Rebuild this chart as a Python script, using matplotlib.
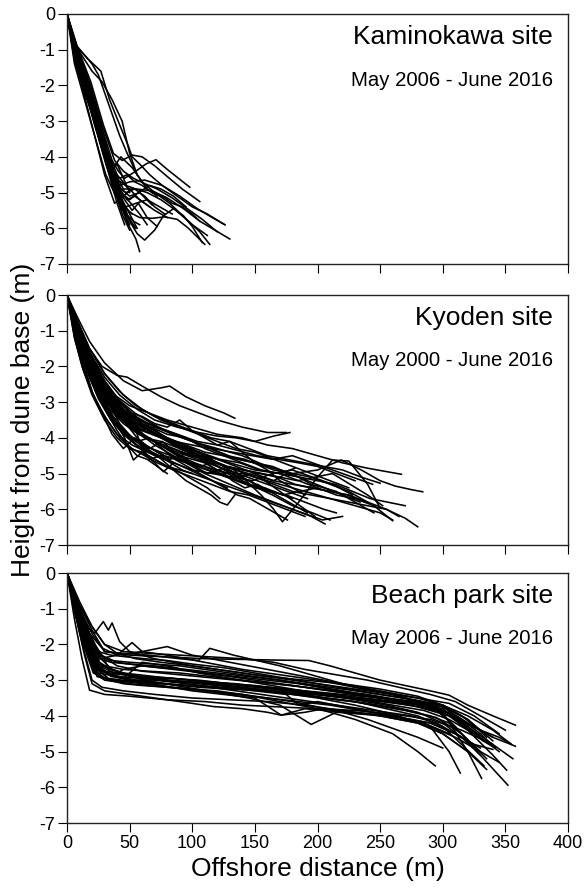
import matplotlib
matplotlib.use("Agg")
import matplotlib.pyplot as plt

plt.rcParams['font.family'] = ['Liberation Sans', 'DejaVu Sans']
plt.rcParams['axes.unicode_minus'] = False

# ---------------- data ----------------
sites = ["Kaminokawa site", "Kyoden site", "Beach park site"]
periods = ["May 2006 - June 2016", "May 2000 - June 2016", "May 2006 - June 2016"]
x_ticks = [0, 50, 100, 150, 200, 250, 300, 350, 400]
y_ticks = [0, -1, -2, -3, -4, -5, -6, -7]

kaminokawa_x = [
    [0, 7, 14, 21, 28, 35, 42, 49, 55, 58],
    [0, 7, 15, 22, 30, 37, 44, 50],
    [0, 8, 16, 24, 32, 40, 46],
    [0, 7, 15, 23, 31, 39, 46, 52],
    [0, 8, 17, 26, 35, 43, 50, 58, 68],
    [0, 7, 16, 25, 34, 43, 51, 58, 64],
    [0, 7, 17, 26, 35, 43, 50, 56, 62, 70, 77, 85, 93, 100, 108],
    [0, 7, 16, 25, 34, 42, 50, 58, 68, 78, 88, 97, 110],
    [0, 7, 18, 27, 34, 42, 49, 52, 58, 66, 76, 88, 100, 112, 126],
    [0, 8, 18, 28, 36, 41, 46, 55, 63, 71, 80, 89, 98],
    [0, 8, 19, 29, 37, 44, 52, 60, 70, 80, 92, 106],
    [0, 7, 17, 27, 36, 45, 55, 68, 80, 93, 106, 118, 130],
    [0, 7, 16, 25, 34, 42, 50, 62, 76, 90, 104, 116, 126],
    [0, 8, 16, 24, 32, 40, 47, 54, 62, 70, 78],
    [0, 7, 14, 22, 30, 38, 45, 52],
    [0, 7, 16, 24, 31, 37, 43, 52, 60, 70, 82, 94, 106, 114],
    [0, 6, 14, 22, 31, 39, 47, 55, 64, 74, 84],
    [0, 7, 18, 28, 38, 45, 53, 62, 72, 84, 96, 108, 120],
    [0, 7, 15, 22, 30, 37, 43, 50, 58, 66],
    [0, 7, 17, 26, 35, 43, 49, 55],
    [0, 7, 15, 22, 29, 35, 40, 45, 50],
    [0, 7, 20, 28, 36, 44, 50, 56, 64, 72],
    [0, 7, 13, 20, 27, 33, 39, 45, 50],
    [0, 6, 12, 19, 26, 32, 38, 44, 49, 54],
    [0, 8, 15, 22, 29, 36, 42, 48, 54, 62, 70, 80],
    [0, 7, 14, 21, 28, 36, 43, 50, 57, 66, 75, 85, 95],
    [0, 6, 13, 21, 28, 35, 41, 47, 53, 58],
    [0, 7, 15, 23, 31, 38, 44],
    [0, 7, 16, 25, 33, 40, 47, 55, 64, 75, 87, 100, 112],
    [0, 6, 14, 22, 30, 37, 42, 48, 54, 60, 68, 76, 84, 92, 100, 106],
    [0, 7, 14, 21, 28, 34, 40, 46, 52, 57, 64, 72],
    [0, 8, 20, 25, 30, 36, 42, 48, 52, 56],
    [0, 8, 16, 23, 30, 37, 44, 50, 56],
]
kaminokawa_y = [
    [0, -0.9, -1.8, -2.7, -3.6, -4.5, -5.3, -5.9, -6.3, -6.65],
    [0, -1.0, -2.0, -2.9, -3.9, -4.8, -5.6, -6.05],
    [0, -1.1, -2.2, -3.2, -4.3, -5.3, -5.9],
    [0, -1.2, -2.2, -3.2, -4.2, -5.0, -5.4, -5.6],
    [0, -1.0, -2.0, -3.1, -4.2, -4.9, -5.1, -5.0, -5.35],
    [0, -1.0, -2.1, -3.2, -4.3, -5.0, -5.3, -5.6, -5.9],
    [0, -1.0, -2.0, -3.2, -4.3, -5.1, -5.8, -6.15, -6.33, -6.05, -5.65, -5.45, -5.65, -5.95, -6.4],
    [0, -1.1, -2.2, -3.4, -4.5, -5.2, -5.55, -5.7, -5.72, -5.68, -5.75, -6.0, -6.45],
    [0, -0.9, -1.3, -1.6, -2.4, -3.1, -3.7, -4.0, -4.2, -4.5, -4.8, -5.1, -5.4, -5.6, -5.9],
    [0, -1.0, -2.0, -3.2, -4.1, -4.4, -4.6, -4.4, -4.2, -4.08, -4.35, -4.6, -4.85],
    [0, -0.9, -1.9, -3.1, -3.9, -4.1, -3.95, -4.0, -4.25, -4.55, -4.9, -5.25],
    [0, -1.0, -2.0, -3.2, -4.3, -4.9, -4.9, -4.95, -5.15, -5.45, -5.8, -6.05, -6.3],
    [0, -1.1, -2.2, -3.3, -4.3, -4.8, -4.7, -4.65, -4.8, -5.1, -5.45, -5.7, -5.9],
    [0, -1.0, -2.0, -3.1, -4.1, -4.8, -5.0, -4.9, -5.1, -5.4, -5.6],
    [0, -1.3, -2.3, -3.4, -4.5, -5.3, -5.1, -4.9],
    [0, -1.0, -2.0, -3.0, -3.8, -4.3, -4.0, -4.3, -4.7, -5.0, -5.3, -5.7, -6.1, -6.45],
    [0, -1.4, -2.4, -3.4, -4.5, -5.1, -5.4, -5.3, -5.2, -5.4, -5.6],
    [0, -0.9, -1.9, -3.1, -4.1, -4.4, -4.6, -4.75, -4.9, -5.15, -5.45, -5.75, -6.1],
    [0, -1.2, -2.2, -3.1, -4.0, -4.6, -4.7, -4.9, -5.2, -5.4],
    [0, -1.0, -2.2, -3.4, -4.5, -5.3, -5.7, -6.0],
    [0, -1.1, -2.1, -3.0, -3.9, -4.4, -4.2, -4.6, -5.0],
    [0, -0.9, -1.6, -1.9, -2.4, -3.0, -3.9, -4.5, -4.9, -5.1],
    [0, -1.0, -1.6, -2.5, -3.4, -4.2, -4.9, -5.5, -5.9],
    [0, -1.2, -1.8, -2.6, -3.4, -4.1, -4.7, -5.3, -5.7, -6.0],
    [0, -1.0, -1.8, -2.6, -3.5, -4.3, -4.9, -5.2, -5.1, -5.3, -5.5, -5.7],
    [0, -1.1, -1.9, -2.7, -3.6, -4.5, -5.0, -5.2, -5.0, -4.8, -4.9, -5.1, -5.4],
    [0, -1.3, -2.1, -2.9, -3.8, -4.6, -5.2, -5.6, -5.8, -5.9],
    [0, -1.0, -2.0, -3.0, -4.0, -4.9, -5.5],
    [0, -0.95, -1.9, -2.9, -3.9, -4.5, -4.8, -4.9, -5.0, -5.2, -5.5, -5.9, -6.2],
    [0, -1.1, -2.0, -2.9, -3.8, -4.5, -4.6, -4.5, -4.7, -4.8, -5.0, -5.1, -5.3, -5.4, -5.6, -5.8],
    [0, -1.0, -1.9, -2.8, -3.6, -4.3, -4.9, -5.2, -5.5, -5.3, -5.7, -5.95],
    [0, -0.9, -1.4, -1.7, -2.2, -2.8, -3.4, -3.9, -4.2, -4.5],
    [0, -1.4, -2.3, -3.1, -3.9, -4.6, -5.2, -5.6, -6.0],
]

kyoden_x = [
    [0, 8, 18, 30, 45, 60, 75, 82, 95, 110, 125, 134],
    [0, 8, 16, 28, 40, 48, 60, 75, 90, 105, 120, 140, 160, 175],
    [0, 7, 15, 25, 38, 50, 65, 80, 100, 120, 140, 160, 180, 200, 220, 240, 267],
    [0, 8, 18, 30, 42, 55, 70, 85, 100, 120, 140, 160, 180, 200, 219, 235, 250, 262, 275, 284],
    [0, 7, 16, 28, 40, 55, 70, 85, 100, 118, 135, 150, 165, 180, 195, 210, 225, 240, 255, 270, 280],
    [0, 8, 18, 30, 45, 60, 75, 90, 110, 130, 150, 170, 185, 200, 215, 230, 245, 260],
    [0, 7, 15, 25, 35, 45, 55, 65, 75, 85, 95, 105, 115, 122, 128, 134],
    [0, 8, 16, 26, 36, 46, 53, 60, 70, 77, 85],
    [0, 8, 18, 30, 45, 60, 80, 100, 120, 140, 155, 165, 172, 185, 200, 212, 225, 240, 250],
    [0, 7, 15, 25, 40, 55, 70, 90, 110, 130, 150, 165, 180, 195, 206],
    [0, 8, 18, 30, 42, 55, 70, 85, 100, 115, 130, 145, 160, 175, 190, 205, 220, 235, 250],
    [0, 7, 14, 24, 35, 48, 62, 78, 95, 112, 128, 145, 160, 175, 190, 205, 215],
    [0, 6, 14, 24, 36, 50, 65, 80, 95, 110, 125, 140, 155, 170, 182],
    [0, 8, 18, 30, 42, 56, 70, 88, 105, 120, 135, 150, 165, 178],
    [0, 7, 15, 25, 37, 50, 65, 80, 95, 110, 125, 138, 150, 165, 180, 195, 210, 225, 240],
    [0, 6, 13, 22, 32, 42, 52, 62, 72, 85, 100, 115, 130, 145, 160, 175, 190],
    [0, 7, 16, 27, 38, 50, 62, 75, 90, 105, 120, 135, 150],
    [0, 8, 17, 28, 40, 52, 60, 66, 75, 90, 105, 120, 135, 150, 165, 180],
    [0, 7, 15, 25, 35, 45, 58, 72, 88, 104, 120, 136, 152, 168, 185, 200, 215, 230],
    [0, 8, 18, 30, 44, 58, 72, 86, 100, 114, 128, 142, 156, 170, 184, 198, 212, 226, 240, 252],
    [0, 7, 15, 24, 34, 46, 60, 75, 92, 110, 128, 146, 164, 180, 196, 210],
    [0, 6, 12, 20, 30, 40, 50, 60, 70, 80, 90, 100],
    [0, 8, 18, 30, 45, 60, 75, 90, 105, 120, 135, 150, 165, 180, 195, 210, 225],
    [0, 7, 16, 26, 38, 50, 64, 80, 96, 112, 128, 144, 160, 176, 192],
    [0, 7, 14, 22, 32, 44, 56, 70, 85, 100, 116, 132, 148, 164, 180, 196, 212, 228],
    [0, 8, 16, 26, 36, 48, 60, 72, 86, 100, 114, 128, 142, 156],
    [0, 7, 15, 25, 35, 47, 60, 75, 90, 106, 122, 138, 154, 170, 186, 200, 214, 228, 242, 256, 270],
    [0, 6, 13, 21, 30, 40, 52, 64, 78, 92, 108, 124, 140, 156, 172, 188, 204, 220],
    [0, 8, 17, 28, 40, 54, 68, 84, 100, 116, 132, 148, 164, 180, 196, 212, 228, 244],
    [0, 7, 15, 24, 34, 45, 57, 70, 84, 98, 112, 126, 140, 154, 168, 182, 196, 210, 224, 238],
    [0, 7, 14, 23, 33, 44, 56, 68, 80, 92, 104, 116, 128],
    [0, 8, 18, 29, 41, 54, 67, 80, 94, 108, 122, 136, 150, 164, 178, 192, 206, 220, 234],
    [0, 7, 16, 26, 37, 49, 62, 76, 90, 105, 120, 135, 150, 165, 180, 195, 210, 225, 240, 255, 265],
    [0, 7, 15, 25, 36, 48, 60, 74, 88, 102, 116, 130, 144, 158, 172, 186, 200],
    [0, 8, 16, 26, 36, 46, 56, 66, 76, 86, 96, 106, 116],
    [0, 5, 10, 15, 22, 30, 40, 50, 60, 70, 80, 90, 100, 110, 120, 130, 140, 150, 160],
    [0, 6, 12, 20, 28, 38, 48, 58, 68, 78, 90, 102, 114, 126, 138, 150, 162, 174, 186, 198],
    [0, 5, 10, 17, 25, 33, 42, 52, 62, 72, 82, 92, 102, 112, 122],
    [0, 7, 14, 22, 31, 40, 50, 60, 70, 80, 90, 100, 110, 120, 130, 140, 150, 160, 170, 180, 190],
    [0, 6, 13, 20, 28, 36, 45, 54, 63, 72, 82, 92, 102, 112, 122, 132, 142, 152, 162, 172, 182, 192],
    [0, 5, 11, 18, 26, 35, 45, 55, 65, 75, 85, 95, 105, 115, 125, 135, 145, 155, 165, 175, 185, 195, 205, 215, 225, 235, 245],
    [0, 7, 14, 21, 29, 38, 47, 56, 66, 76, 86, 96, 106, 116, 126, 136, 146, 156],
    [0, 6, 12, 19, 26, 34, 43, 52, 61, 70, 80, 90, 100, 110, 120, 130, 140, 150, 160, 170, 180, 190, 200, 210, 220, 230, 240, 250, 260],
    [0, 8, 16, 24, 32, 40, 48, 56, 64, 72, 80],
    [0, 6, 13, 20, 28, 37, 46, 56, 66, 76, 86, 96, 106, 116, 126, 136, 146, 156, 166, 176],
]
kyoden_y = [
    [0, -0.6, -1.3, -1.9, -2.4, -2.68, -2.6, -2.55, -2.85, -3.1, -3.3, -3.45],
    [0, -0.7, -1.4, -2.0, -2.25, -2.3, -2.55, -2.85, -3.1, -3.3, -3.5, -3.7, -3.85, -3.85],
    [0, -0.8, -1.6, -2.2, -2.8, -3.1, -3.3, -3.5, -3.7, -3.9, -4.0, -4.2, -4.3, -4.5, -4.7, -4.85, -5.02],
    [0, -0.9, -1.7, -2.5, -3.0, -3.4, -3.7, -3.9, -4.1, -4.3, -4.5, -4.8, -5.0, -4.9, -4.62, -4.9, -5.2, -5.35, -5.45, -5.51],
    [0, -1.0, -1.9, -2.7, -3.3, -3.8, -4.1, -4.3, -4.5, -4.7, -4.9, -5.1, -5.3, -5.5, -5.6, -5.7, -5.8, -5.9, -6.0, -6.25, -6.49],
    [0, -0.9, -1.8, -2.6, -3.2, -3.6, -3.9, -4.2, -4.5, -4.7, -4.9, -5.0, -5.2, -5.4, -5.6, -5.7, -5.9, -6.32],
    [0, -1.1, -2.0, -2.9, -3.5, -3.9, -4.2, -4.5, -4.7, -4.9, -5.2, -5.4, -5.6, -5.8, -5.88, -5.6],
    [0, -1.0, -1.9, -2.8, -3.4, -4.0, -4.62, -4.4, -4.7, -4.95, -4.7],
    [0, -0.8, -1.6, -2.4, -3.1, -3.6, -4.0, -4.3, -4.7, -5.1, -5.6, -6.0, -6.35, -5.8, -5.1, -4.62, -4.65, -5.3, -5.97],
    [0, -0.9, -1.8, -2.6, -3.3, -3.8, -4.2, -4.6, -5.0, -5.3, -5.6, -5.8, -6.0, -6.2, -6.41],
    [0, -0.7, -1.5, -2.2, -2.7, -3.1, -3.4, -3.6, -3.8, -4.0, -4.1, -4.3, -4.5, -4.6, -4.7, -4.8, -4.9, -5.1, -5.27],
    [0, -1.1, -2.0, -2.8, -3.4, -3.9, -4.2, -4.5, -4.7, -4.9, -5.1, -5.3, -5.5, -5.6, -5.8, -6.0, -6.1],
    [0, -1.0, -1.8, -2.5, -3.0, -3.4, -3.6, -3.8, -4.0, -4.3, -4.5, -4.7, -4.9, -5.0, -4.85],
    [0, -0.8, -1.6, -2.3, -2.8, -3.2, -3.5, -3.7, -3.85, -3.95, -4.0, -4.1, -3.95, -3.85],
    [0, -0.9, -1.7, -2.5, -3.1, -3.5, -3.8, -4.0, -4.2, -4.4, -4.5, -4.6, -4.7, -4.9, -5.0, -5.1, -5.3, -5.5, -5.8],
    [0, -1.2, -2.1, -2.9, -3.5, -4.0, -4.3, -4.5, -4.7, -4.9, -5.1, -5.3, -5.5, -5.6, -5.8, -6.0, -6.2],
    [0, -1.0, -1.9, -2.7, -3.3, -3.7, -4.0, -4.1, -4.3, -4.5, -4.7, -4.9, -5.1],
    [0, -0.8, -1.7, -2.5, -3.1, -3.5, -4.3, -4.6, -4.5, -4.6, -4.8, -5.0, -5.2, -5.4, -5.5, -5.7],
    [0, -0.8, -1.6, -2.4, -2.9, -3.2, -3.5, -3.7, -3.9, -4.1, -4.2, -4.35, -4.5, -4.6, -4.7, -4.8, -5.0, -5.2],
    [0, -0.9, -1.8, -2.6, -3.2, -3.6, -3.9, -4.2, -4.4, -4.6, -4.8, -4.9, -5.0, -5.1, -5.2, -5.1, -5.0, -5.3, -5.6, -5.9],
    [0, -1.0, -1.9, -2.7, -3.4, -3.9, -4.2, -4.4, -4.6, -4.8, -5.0, -5.3, -5.6, -5.9, -6.1, -6.3],
    [0, -1.2, -2.0, -2.8, -3.5, -4.0, -4.3, -4.4, -4.6, -4.8, -4.9, -5.0],
    [0, -0.7, -1.5, -2.2, -2.8, -3.2, -3.5, -3.7, -3.9, -4.1, -4.3, -4.4, -4.6, -4.8, -5.0, -5.2, -5.4],
    [0, -0.9, -1.7, -2.5, -3.2, -3.6, -4.0, -4.3, -4.5, -4.7, -4.9, -5.1, -5.3, -5.5, -5.7],
    [0, -1.0, -1.8, -2.6, -3.3, -3.8, -4.2, -4.5, -4.7, -4.9, -5.0, -5.1, -5.2, -5.0, -4.9, -5.1, -5.3, -5.6],
    [0, -0.8, -1.6, -2.4, -3.0, -3.4, -3.7, -3.9, -4.1, -4.2, -4.3, -4.5, -4.6, -4.8],
    [0, -0.9, -1.8, -2.6, -3.1, -3.5, -3.8, -4.0, -4.2, -4.4, -4.6, -4.7, -4.9, -5.0, -5.1, -5.2, -5.3, -5.5, -5.7, -5.8, -5.9],
    [0, -1.1, -2.0, -2.8, -3.4, -3.9, -4.2, -4.4, -4.6, -4.9, -5.1, -5.3, -5.5, -5.7, -5.9, -6.1, -6.3, -6.2],
    [0, -0.8, -1.6, -2.3, -2.9, -3.3, -3.6, -3.9, -4.1, -4.3, -4.4, -4.5, -4.6, -4.5, -4.7, -4.9, -5.1, -5.3],
    [0, -0.9, -1.8, -2.6, -3.2, -3.6, -3.9, -4.1, -4.3, -4.5, -4.6, -4.8, -4.9, -5.0, -5.1, -5.3, -5.4, -5.5, -5.6, -5.8],
    [0, -1.0, -1.9, -2.7, -3.3, -3.8, -4.1, -4.4, -4.6, -4.8, -5.0, -5.2, -5.4],
    [0, -0.8, -1.7, -2.5, -3.0, -3.4, -3.7, -3.9, -4.0, -4.2, -4.4, -4.6, -4.7, -4.8, -5.0, -5.2, -5.4, -5.6, -5.8],
    [0, -0.9, -1.8, -2.5, -3.1, -3.5, -3.8, -4.0, -4.2, -4.4, -4.6, -4.8, -5.0, -5.2, -5.3, -5.4, -5.5, -5.6, -5.8, -6.0, -6.2],
    [0, -1.0, -1.8, -2.6, -3.2, -3.6, -3.9, -4.2, -4.5, -4.7, -4.9, -5.1, -5.3, -5.4, -5.6, -5.5, -5.4],
    [0, -0.9, -1.7, -2.4, -2.9, -3.3, -3.6, -3.8, -4.0, -4.2, -4.3, -4.5, -4.6],
    [0, -0.5, -1.1, -1.5, -2.0, -2.5, -3.0, -3.4, -3.9, -4.1, -4.3, -4.5, -4.4, -4.7, -4.9, -4.8, -5.1, -5.3, -5.5],
    [0, -0.8, -1.5, -2.1, -2.6, -3.1, -3.5, -3.8, -3.7, -4.0, -4.3, -4.5, -4.7, -4.9, -5.1, -5.0, -5.3, -5.6, -5.9, -6.2],
    [0, -0.7, -1.3, -1.9, -2.5, -3.0, -3.6, -4.0, -4.3, -4.5, -4.8, -5.0, -5.2, -5.4, -5.7],
    [0, -0.9, -1.7, -2.4, -2.9, -3.3, -3.3, -3.4, -3.6, -3.7, -3.5, -3.8, -4.0, -4.2, -4.1, -4.4, -4.7, -4.9, -5.2, -5.4, -5.6],
    [0, -1.0, -1.9, -2.7, -3.3, -3.9, -4.3, -4.0, -4.2, -4.4, -4.6, -4.5, -4.8, -5.0, -4.9, -5.2, -5.4, -5.3, -5.5, -5.7, -5.9, -6.1],
    [0, -0.6, -1.2, -1.8, -2.3, -2.8, -3.2, -3.5, -3.8, -4.0, -4.2, -4.3, -4.5, -4.6, -4.8, -4.9, -5.0, -5.1, -5.2, -5.0, -5.1, -5.3, -5.4, -5.5, -5.7, -5.9, -6.1],
    [0, -0.8, -1.6, -2.3, -2.9, -3.3, -3.6, -4.0, -4.3, -4.1, -4.4, -4.6, -4.8, -4.7, -4.9, -5.1, -5.2, -5.4],
    [0, -0.7, -1.4, -2.0, -2.5, -2.9, -3.3, -3.6, -3.9, -4.1, -4.3, -4.5, -4.6, -4.7, -4.9, -5.0, -5.0, -5.1, -5.2, -5.3, -5.4, -5.5, -5.6, -5.7, -5.8, -5.9, -6.0, -6.1, -6.3],
    [0, -1.1, -2.0, -2.7, -3.3, -3.8, -4.2, -4.5, -4.6, -4.8, -5.0],
    [0, -0.9, -1.7, -2.4, -2.9, -3.4, -3.8, -4.1, -4.0, -4.3, -4.6, -4.8, -5.0, -5.2, -5.4, -5.6, -5.7, -5.9, -6.1, -6.3],
]

beachpark_x = [
    [0, 10, 20, 30, 50, 80, 110, 140, 170, 193, 210, 230, 250, 270, 290, 305, 320, 340, 358],
    [0, 8, 18, 28, 45, 70, 100, 130, 160, 190, 220, 250, 280, 300, 315, 330, 345, 354],
    [0, 8, 16, 25, 40, 60, 90, 120, 150, 180, 210, 240, 270, 300, 320, 340, 358],
    [0, 6, 12, 18, 30, 50, 80, 110, 140, 170, 200, 230, 260, 290, 310, 325, 340],
    [0, 8, 16, 22, 26, 29, 33, 36, 42, 50, 70, 100, 130, 160, 190, 220, 250, 280, 300, 320, 340, 351],
    [0, 9, 18, 28, 40, 52, 60, 80, 110, 140, 170, 200, 230, 260, 290, 310, 330, 352],
    [0, 7, 14, 22, 30, 50, 80, 110, 140, 170, 200, 230, 260, 280, 294],
    [0, 8, 16, 24, 35, 55, 80, 110, 140, 170, 200, 230, 260, 290, 305, 314],
    [0, 8, 17, 27, 40, 60, 90, 120, 150, 180, 210, 240, 270, 300, 320, 331],
    [0, 10, 20, 30, 45, 65, 90, 105, 114, 133, 170, 200, 230, 260, 290, 315, 330, 342],
    [0, 8, 16, 26, 40, 60, 80, 100, 130, 160, 190, 220, 250, 280, 300, 320, 340, 355],
    [0, 7, 15, 24, 35, 50, 75, 100, 125, 150, 175, 185, 200, 230, 260, 290, 310, 330, 345],
    [0, 9, 18, 27, 40, 60, 90, 120, 150, 180, 210, 240, 270, 300, 320, 340],
    [0, 8, 16, 25, 36, 55, 80, 105, 130, 155, 180, 205, 230, 255, 280, 300, 315, 333],
    [0, 10, 20, 30, 45, 65, 90, 115, 140, 165, 190, 215, 240, 265, 290, 310, 330, 350],
    [0, 7, 13, 20, 28, 45, 70, 100, 130, 160, 190, 220, 250, 280, 300, 320],
    [0, 8, 17, 26, 38, 55, 75, 100, 125, 150, 175, 200, 225, 250, 275, 300, 320, 340, 356],
    [0, 8, 16, 24, 32, 45, 60, 80, 105, 130, 155, 180, 205, 230, 255, 280, 300, 315],
    [0, 9, 18, 26, 35, 50, 70, 95, 120, 145, 170, 195, 220, 245, 270, 295, 310, 325],
    [0, 7, 14, 21, 30, 40, 60, 85, 110, 135, 160, 185, 210, 235, 260, 285, 305],
    [0, 8, 16, 25, 35, 50, 70, 90, 110, 130, 150, 170, 190, 210, 240, 270, 300, 320, 335],
    [0, 8, 16, 25, 35, 50, 75, 100, 125, 150, 171, 190, 205, 230, 260, 290, 315, 340],
    [0, 9, 18, 27, 36, 50, 70, 95, 120, 145, 170, 195, 215, 240, 265, 290, 310, 330],
    [0, 7, 15, 23, 32, 45, 65, 90, 115, 140, 165, 190, 215, 240, 265, 290, 305, 318, 330],
    [0, 8, 17, 26, 35, 48, 60, 80, 100, 125, 150, 175, 200, 225, 250, 275, 300, 318, 332, 342],
    [0, 8, 16, 25, 34, 45, 60, 80, 100, 120, 140, 160, 180, 200, 220, 240, 260, 280, 300],
    [0, 10, 20, 30, 40, 55, 75, 100, 130, 160, 190, 220, 250, 280, 305, 325, 345],
    [0, 8, 16, 24, 33, 45, 60, 80, 105, 130, 155, 180, 205, 230, 255, 280, 305, 330],
    [0, 7, 14, 20, 30, 50, 80, 100, 117, 140, 160, 171, 190, 220, 250, 280, 300, 320, 335],
    [0, 8, 16, 24, 30, 35, 45, 60, 85, 110, 135, 160, 185, 210, 235, 260, 285, 305, 320],
    [0, 8, 15, 22, 30, 45, 65, 90, 115, 140, 165, 190, 215, 240, 265, 290, 310, 330, 345],
    [0, 9, 18, 26, 36, 50, 70, 95, 120, 145, 170, 195, 220, 245, 270, 295, 315, 335],
    [0, 7, 14, 21, 30, 42, 60, 85, 110, 135, 160, 185, 210, 235, 260, 285, 305, 325],
    [0, 8, 17, 25, 35, 48, 62, 80, 100, 125, 150, 175, 200, 225, 250, 275, 300, 320, 340],
    [0, 8, 16, 24, 33, 44, 58, 75, 95, 115, 135, 155, 175, 195, 215, 235, 255, 275, 295, 315, 330],
]
beachpark_y = [
    [0, -1.0, -1.7, -2.2, -2.3, -2.35, -2.4, -2.42, -2.44, -2.45, -2.6, -2.8, -3.0, -3.15, -3.3, -3.42, -3.7, -4.0, -4.26],
    [0, -1.1, -2.1, -2.6, -2.8, -2.9, -3.0, -3.1, -3.2, -3.3, -3.4, -3.5, -3.6, -3.7, -4.0, -4.4, -4.6, -4.77],
    [0, -1.2, -2.2, -2.8, -2.9, -2.95, -3.05, -3.15, -3.25, -3.35, -3.45, -3.55, -3.65, -3.75, -4.2, -4.6, -4.85],
    [0, -1.3, -2.4, -3.28, -3.4, -3.45, -3.55, -3.6, -3.7, -3.75, -3.8, -3.9, -4.0, -4.2, -4.5, -4.8, -4.94],
    [0, -0.8, -1.5, -1.7, -1.5, -1.36, -1.6, -1.4, -1.92, -2.2, -2.4, -2.6, -2.75, -2.9, -3.0, -3.1, -3.25, -3.45, -3.7, -4.4, -5.1, -5.52],
    [0, -0.9, -1.7, -2.1, -2.3, -1.95, -2.2, -2.3, -2.5, -2.7, -2.85, -3.0, -3.2, -3.4, -3.7, -4.3, -5.1, -5.94],
    [0, -1.1, -2.0, -2.8, -3.0, -3.1, -3.2, -3.3, -3.4, -3.6, -3.8, -4.1, -4.5, -5.0, -5.4],
    [0, -1.0, -1.9, -2.5, -2.7, -2.9, -3.0, -3.1, -3.2, -3.35, -3.5, -3.7, -3.95, -4.3, -5.0, -5.6],
    [0, -1.0, -1.8, -2.3, -2.5, -2.6, -2.7, -2.85, -3.0, -3.15, -3.3, -3.45, -3.6, -3.9, -5.0, -5.75],
    [0, -0.9, -1.6, -2.2, -2.25, -2.3, -2.4, -2.45, -2.11, -2.3, -2.6, -2.9, -3.2, -3.4, -3.7, -4.1, -4.5, -4.9],
    [0, -1.0, -1.9, -2.4, -2.3, -2.2, -2.06, -2.3, -2.5, -2.7, -2.9, -3.1, -3.3, -3.5, -3.7, -4.0, -4.4, -4.8],
    [0, -1.1, -2.0, -2.9, -3.0, -3.05, -3.1, -3.15, -3.2, -3.3, -3.4, -3.7, -3.6, -3.8, -4.0, -4.3, -4.6, -5.0, -5.3],
    [0, -0.9, -1.7, -2.3, -2.6, -2.75, -2.85, -2.95, -3.05, -3.15, -3.3, -3.45, -3.6, -3.85, -4.2, -4.6],
    [0, -1.0, -2.0, -2.7, -2.85, -3.0, -3.1, -3.2, -3.25, -3.3, -3.4, -3.5, -3.6, -3.8, -4.0, -4.3, -4.8, -5.4],
    [0, -0.9, -1.5, -2.0, -2.2, -2.25, -2.3, -2.35, -2.4, -2.5, -2.7, -2.85, -3.0, -3.2, -3.4, -3.6, -4.0, -4.4],
    [0, -1.2, -2.1, -3.0, -3.2, -3.3, -3.4, -3.5, -3.55, -3.6, -3.7, -3.85, -4.0, -4.2, -4.5, -5.0],
    [0, -1.0, -1.9, -2.6, -2.8, -2.9, -3.0, -3.05, -3.1, -3.2, -3.3, -3.4, -3.5, -3.6, -3.7, -3.9, -4.3, -4.8, -5.2],
    [0, -1.1, -2.0, -2.6, -2.8, -2.95, -2.5, -2.6, -2.8, -2.95, -3.1, -3.25, -3.4, -3.55, -3.7, -3.9, -4.2, -4.6],
    [0, -0.9, -1.8, -2.4, -2.5, -2.55, -2.6, -2.7, -2.8, -2.9, -3.0, -3.15, -3.3, -3.45, -3.6, -3.8, -4.3, -4.9],
    [0, -1.2, -2.1, -2.8, -2.95, -3.0, -3.1, -3.2, -3.3, -3.4, -3.5, -3.6, -3.7, -3.85, -4.0, -4.2, -4.5],
    [0, -1.0, -1.9, -2.3, -2.45, -2.5, -2.55, -2.6, -2.7, -2.8, -2.9, -3.0, -3.1, -3.2, -3.35, -3.5, -3.7, -4.1, -4.6],
    [0, -0.9, -1.8, -2.6, -2.85, -3.0, -3.15, -3.3, -3.4, -3.5, -3.98, -3.9, -3.8, -3.85, -3.95, -4.1, -4.4, -4.8],
    [0, -0.9, -1.7, -2.4, -2.7, -2.9, -3.05, -3.2, -3.35, -3.5, -3.7, -4.24, -3.9, -3.95, -4.05, -4.2, -4.5, -4.9],
    [0, -1.1, -2.0, -2.7, -2.8, -2.85, -2.95, -3.05, -3.1, -3.2, -3.3, -3.4, -3.55, -3.65, -3.8, -4.0, -4.2, -4.6, -5.0],
    [0, -1.0, -1.8, -2.5, -2.7, -2.85, -2.9, -3.0, -3.05, -3.1, -3.15, -3.25, -3.35, -3.45, -3.55, -3.65, -3.8, -4.3, -4.7, -4.9],
    [0, -1.0, -1.9, -2.7, -3.0, -3.1, -3.15, -3.2, -3.25, -3.3, -3.4, -3.5, -3.6, -3.75, -3.9, -4.1, -4.35, -4.6, -4.9],
    [0, -0.8, -1.5, -2.0, -2.25, -2.4, -2.5, -2.6, -2.75, -2.9, -3.05, -3.2, -3.35, -3.5, -3.65, -4.0, -4.5],
    [0, -1.1, -2.1, -2.8, -3.0, -3.05, -3.0, -2.95, -3.0, -3.1, -3.2, -3.3, -3.4, -3.5, -3.6, -3.75, -4.0, -4.4],
    [0, -1.2, -2.3, -3.1, -3.3, -3.4, -3.55, -3.65, -3.74, -3.8, -3.9, -3.98, -3.8, -3.9, -4.0, -4.2, -4.5, -5.0, -5.5],
    [0, -1.0, -1.8, -2.1, -2.4, -2.9, -2.7, -2.6, -2.7, -2.8, -2.9, -3.0, -3.1, -3.25, -3.4, -3.55, -3.7, -4.0, -4.4],
    [0, -1.1, -2.0, -2.5, -2.6, -2.7, -2.75, -2.8, -2.9, -3.0, -3.1, -3.2, -3.3, -3.4, -3.55, -3.7, -4.0, -4.6, -5.0],
    [0, -1.0, -1.9, -2.7, -2.9, -3.0, -3.0, -3.1, -3.2, -3.25, -3.35, -3.45, -3.55, -3.7, -3.85, -4.05, -4.5, -5.2],
    [0, -1.2, -2.0, -2.6, -2.75, -2.8, -2.9, -2.95, -3.05, -3.1, -3.2, -3.3, -3.45, -3.55, -3.7, -3.85, -4.1, -4.5],
    [0, -1.0, -1.8, -2.2, -2.3, -2.35, -2.4, -2.45, -2.55, -2.65, -2.8, -2.95, -3.1, -3.25, -3.4, -3.55, -3.75, -4.1, -4.7],
    [0, -1.0, -1.9, -2.7, -2.95, -3.0, -3.05, -3.1, -3.15, -3.2, -3.3, -3.4, -3.5, -3.6, -3.7, -3.8, -3.9, -4.0, -4.2, -4.6, -5.1],
]

panel_x = [kaminokawa_x, kyoden_x, beachpark_x]
panel_y = [kaminokawa_y, kyoden_y, beachpark_y]

# ---------------- figure ----------------
W, H = 584, 890
fig = plt.figure(figsize=(W / 100, H / 100), dpi=100)

left = 67 / W
width = 501 / W
tops = [14, 295, 573]
ph = 250

for i in range(3):
    bottom = 1 - (tops[i] + ph) / H
    ax = fig.add_axes([left, bottom, width, ph / H])
    for xs, ys in zip(panel_x[i], panel_y[i]):
        ax.plot(xs, ys, color='black', lw=1.15)
    ax.set_xlim(0, 400)
    ax.set_ylim(-7, 0)
    ax.set_xticks(x_ticks)
    ax.set_yticks(y_ticks)
    ax.set_yticklabels([str(v) for v in y_ticks])
    ax.tick_params(direction='out', length=6.5, width=0.8, labelsize=13, pad=2, colors='black')
    if i < 2:
        ax.set_xticklabels([])
    else:
        ax.set_xticklabels([str(v) for v in x_ticks])
        ax.set_xlabel("Offshore distance (m)", fontsize=19, labelpad=4)
    for s in ax.spines.values():
        s.set_linewidth(1.0)
        s.set_color('#222222')
    ax.text(0.97, 0.908, sites[i], transform=ax.transAxes, ha='right', va='center', fontsize=19)
    ax.text(0.97, 0.736, periods[i], transform=ax.transAxes, ha='right', va='center', fontsize=14.7)

fig.text(0.040, 1 - 420 / H, "Height from dune base (m)", rotation=90, ha='center', va='center', fontsize=19)

fig.savefig("out.png", dpi=100)
